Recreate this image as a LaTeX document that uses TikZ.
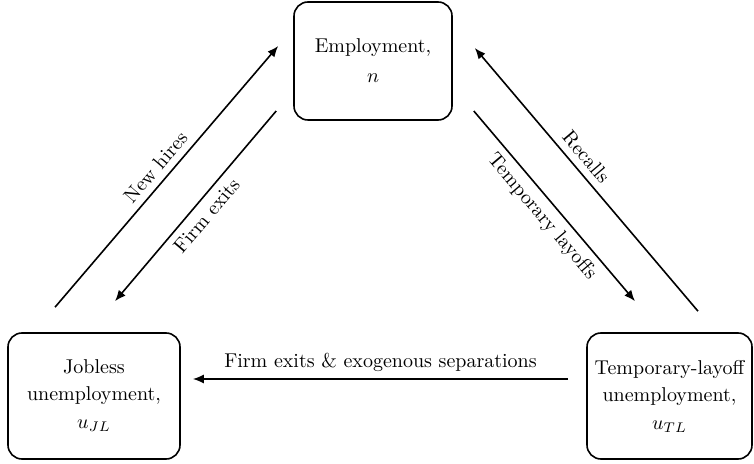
\documentclass[tikz,border=0pt]{standalone}
\usetikzlibrary{arrows.meta,calc}
\begin{document}
\begin{tikzpicture}[x=0.5pt,y=-0.5pt,
  box/.style={draw,line width=0.8pt,rounded corners=7pt,align=center,inner sep=2pt},
  flow/.style={line width=0.8pt,-{Latex[length=5.5pt,width=4.5pt]}}]
\useasboundingbox (0,0) rectangle (754,464);
\node[box,minimum width=79pt,minimum height=59pt] (emp) at (373,61) {Employment,\\[3pt] $n$};
\node[box,minimum width=86pt,minimum height=63pt] (jl) at (94,396) {Jobless\\[1.5pt] unemployment,\\[2pt] $u_{JL}$};
\node[box,minimum width=82.5pt,minimum height=63pt] (tl) at (669.5,396) {Temporary-layoff\\[1.5pt] unemployment,\\[2pt] $u_{TL}$};
\draw[flow] ($(jl.north)+(-39,-25)$) -- node[midway,above,sloped] {New hires} ($(emp.west)+(-15,-15)$);
\draw[flow] ($(emp.west)+(-17,50)$) -- node[midway,below,sloped] {Firm exits} ($(jl.north)+(21,-31)$);
\draw[flow] ($(tl.north)+(28.5,-21)$) -- node[pos=0.55,above,sloped] {Recalls} ($(emp.east)+(22,-13)$);
\draw[flow] ($(emp.east)+(21,50)$) -- node[midway,below,sloped] {Temporary layoffs} ($(tl.north)+(-34.5,-31)$);
\draw[flow] ($(tl.west)+(-18,-17)$) -- node[midway,above] {Firm exits \& exogenous separations} ($(jl.east)+(12,-17)$);
\end{tikzpicture}
\end{document}
